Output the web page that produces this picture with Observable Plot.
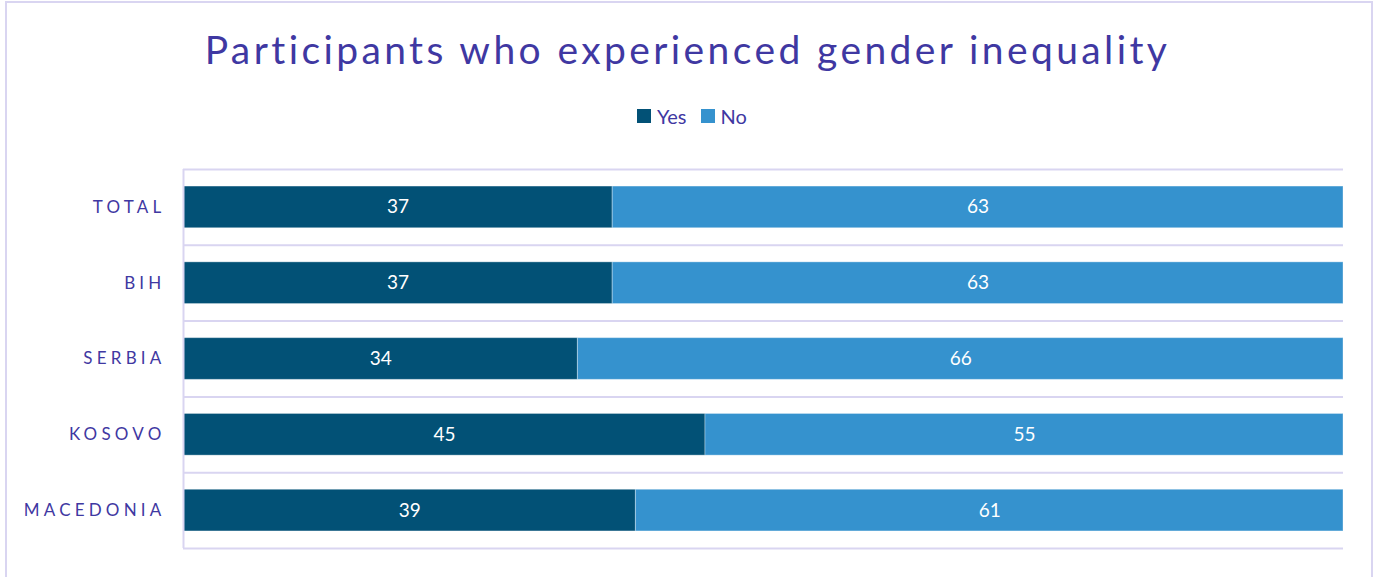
<!DOCTYPE html>
<html><head><meta charset="utf-8">
<script src="https://cdn.jsdelivr.net/npm/d3@7"></script>
<script src="https://cdn.jsdelivr.net/npm/@observablehq/plot@0.6"></script>
<style>
body{margin:0;background:#fff;font-family:Lato,sans-serif;}
#box{position:absolute;left:5px;top:1px;width:1368px;height:620px;border:2px solid #d9d5f1;box-sizing:border-box;}
#title{position:absolute;left:0;top:30px;width:1375px;text-align:center;font-size:39px;line-height:1;color:#3f38a2;letter-spacing:3.4px;white-space:nowrap;}
#legend{position:absolute;left:637px;top:106px;display:flex;align-items:center;font-size:20px;line-height:1;color:#3f38a2;}
#legend .sw{width:14px;height:14px;display:inline-block;margin-right:6px;}
#legend .item{display:flex;align-items:center;margin-right:14px;}
#chart{position:absolute;left:0;top:148px;}
#chart svg text{letter-spacing:4.2px;}
#chart svg g[aria-label="text"] text{letter-spacing:0;}
</style>
</head><body>
<div id="box"></div>
<div id="title">Participants who experienced gender inequality</div>
<div id="legend"></div>
<div id="chart"></div>
<script>
const categories = ["TOTAL", "BIH", "SERBIA", "KOSOVO", "MACEDONIA"];
const series = ["Yes", "No"];
const yesValues = [37, 37, 34, 45, 39];
const noValues = [63, 63, 66, 55, 61];
const colors = ["#025176", "#3592ce"];

const data = [];
categories.forEach((c, i) => data.push({category: c, series: "Yes", value: yesValues[i]}));
categories.forEach((c, i) => data.push({category: c, series: "No", value: noValues[i]}));

const legend = document.getElementById("legend");
series.forEach((s, i) => {
  const item = document.createElement("span");
  item.className = "item";
  item.innerHTML = `<span class="sw" style="background:${colors[i]}"></span>${s}`;
  legend.appendChild(item);
});

const width = 1375, height = 421;
const mt = 21, mb = 21, ml = 183, mr = 32;
const step = (height - mt - mb) / categories.length;
const gridColor = "#d9d5f1";

const chart = Plot.plot({
  width, height,
  marginTop: mt, marginBottom: mb, marginLeft: ml, marginRight: mr,
  style: {fontFamily: "Lato, sans-serif", fontSize: "17px", color: "#3f38a2", background: "transparent"},
  x: {domain: [0, 100], axis: null},
  y: {domain: categories, round: false, paddingInner: 0.45, paddingOuter: 0.225, tickSize: 0, tickPadding: 18, label: null},
  color: {domain: series, range: colors},
  marks: [
    Plot.ruleY(categories, {y: d => d, dy: -step / 2, stroke: gridColor, strokeWidth: 2}),
    Plot.ruleY([categories[categories.length - 1]], {y: d => d, dy: step / 2, stroke: gridColor, strokeWidth: 2}),
    Plot.barX(data, {x: "value", y: "category", fill: "series", stroke: "#ffffff", strokeOpacity: 0.35, strokeWidth: 1}),
    Plot.text(data, Plot.stackX({x: "value", y: "category", z: "series", text: d => String(d.value), fill: "white", fontSize: 19})),
    Plot.ruleX([0], {stroke: gridColor, strokeWidth: 2})
  ]
});
document.getElementById("chart").appendChild(chart);
</script>
</body></html>
